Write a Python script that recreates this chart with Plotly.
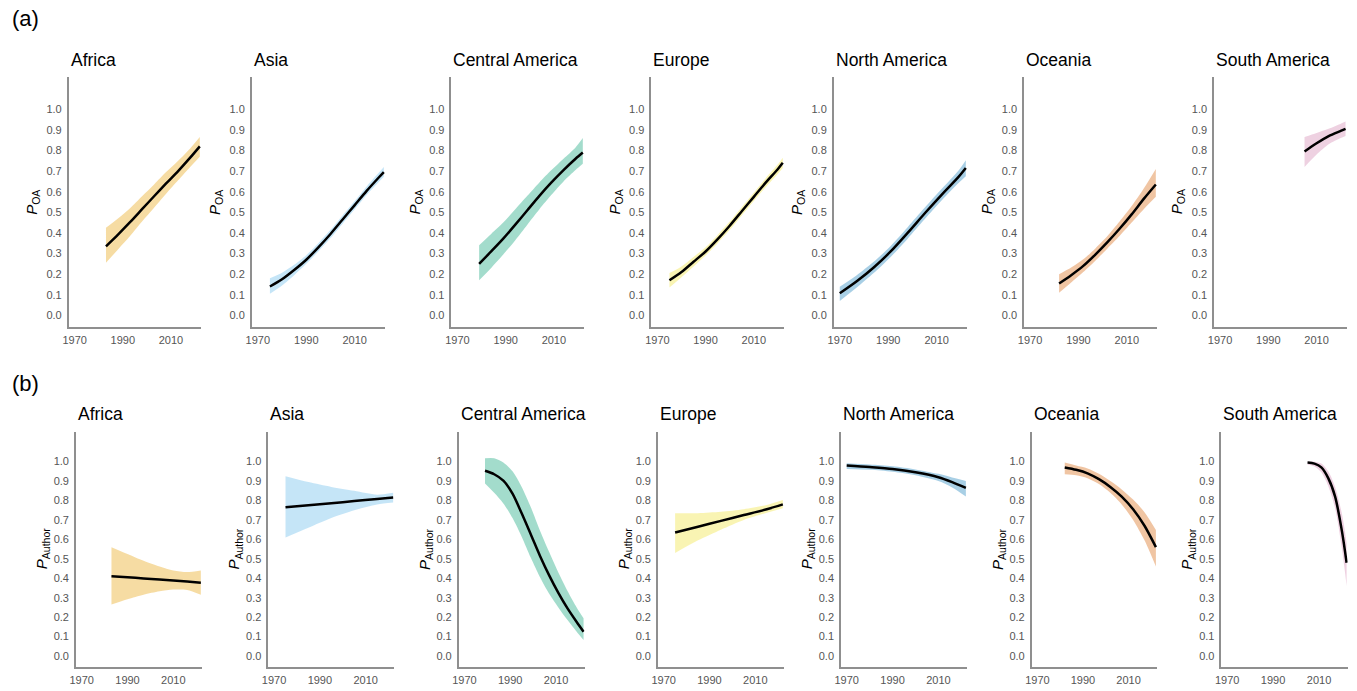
import plotly.graph_objects as go

W, H = 1357, 691

regions = ["Africa", "Asia", "Central America", "Europe", "North America", "Oceania", "South America"]
fill_colors = ["rgba(230,159,0,0.36)", "rgba(86,180,233,0.34)", "rgba(0,158,115,0.36)",
               "rgba(240,228,66,0.40)", "rgba(0,114,178,0.34)", "rgba(213,94,0,0.36)",
               "rgba(204,121,167,0.34)"]
x_ticks = [1970, 1990, 2010]
y_ticks = [0.0, 0.1, 0.2, 0.3, 0.4, 0.5, 0.6, 0.7, 0.8, 0.9, 1.0]
y_ticktext = ["0.0", "0.1", "0.2", "0.3", "0.4", "0.5", "0.6", "0.7", "0.8", "0.9", "1.0"]

# ---------------- (a) P_OA ----------------
oa_africa_year = [1983, 1988, 1993, 1998, 2003, 2008, 2013, 2018, 2022]
oa_africa_mean = [0.335, 0.392, 0.452, 0.515, 0.578, 0.64, 0.70, 0.765, 0.82]
oa_africa_lo = [0.255, 0.32, 0.385, 0.455, 0.522, 0.59, 0.655, 0.72, 0.77]
oa_africa_hi = [0.425, 0.47, 0.52, 0.578, 0.635, 0.695, 0.75, 0.81, 0.865]

oa_asia_year = [1975, 1980, 1985, 1990, 1995, 2000, 2005, 2010, 2015, 2020, 2022]
oa_asia_mean = [0.14, 0.175, 0.22, 0.27, 0.33, 0.395, 0.465, 0.535, 0.605, 0.67, 0.695]
oa_asia_lo = [0.105, 0.145, 0.195, 0.25, 0.31, 0.375, 0.445, 0.515, 0.585, 0.648, 0.672]
oa_asia_hi = [0.18, 0.207, 0.245, 0.292, 0.35, 0.415, 0.485, 0.555, 0.627, 0.693, 0.72]

oa_camerica_year = [1979, 1984, 1989, 1994, 1999, 2004, 2009, 2014, 2019, 2022]
oa_camerica_mean = [0.25, 0.31, 0.372, 0.44, 0.51, 0.58, 0.645, 0.705, 0.76, 0.79]
oa_camerica_lo = [0.17, 0.23, 0.295, 0.365, 0.44, 0.515, 0.585, 0.65, 0.705, 0.735]
oa_camerica_hi = [0.34, 0.395, 0.45, 0.515, 0.58, 0.645, 0.705, 0.76, 0.815, 0.86]

oa_europe_year = [1975, 1980, 1985, 1990, 1995, 2000, 2005, 2010, 2015, 2020, 2022]
oa_europe_mean = [0.17, 0.21, 0.26, 0.31, 0.37, 0.435, 0.505, 0.575, 0.645, 0.71, 0.74]
oa_europe_lo = [0.135, 0.185, 0.237, 0.29, 0.35, 0.415, 0.485, 0.555, 0.623, 0.687, 0.715]
oa_europe_hi = [0.205, 0.237, 0.283, 0.33, 0.39, 0.455, 0.525, 0.595, 0.667, 0.733, 0.765]

oa_namerica_year = [1970, 1977, 1984, 1991, 1998, 2005, 2012, 2019, 2022]
oa_namerica_mean = [0.107, 0.165, 0.232, 0.31, 0.4, 0.494, 0.585, 0.672, 0.715]
oa_namerica_lo = [0.07, 0.135, 0.205, 0.283, 0.372, 0.466, 0.557, 0.642, 0.675]
oa_namerica_hi = [0.139, 0.195, 0.26, 0.337, 0.428, 0.522, 0.613, 0.703, 0.753]

oa_oceania_year = [1982, 1987, 1992, 1997, 2002, 2007, 2012, 2017, 2022]
oa_oceania_mean = [0.155, 0.195, 0.24, 0.295, 0.355, 0.42, 0.49, 0.565, 0.635]
oa_oceania_lo = [0.11, 0.16, 0.21, 0.265, 0.325, 0.385, 0.45, 0.515, 0.575]
oa_oceania_hi = [0.2, 0.232, 0.272, 0.325, 0.385, 0.455, 0.53, 0.615, 0.71]

oa_samerica_year = [2005, 2010, 2015, 2020, 2022]
oa_samerica_mean = [0.795, 0.835, 0.87, 0.895, 0.905]
oa_samerica_lo = [0.72, 0.78, 0.83, 0.86, 0.87]
oa_samerica_hi = [0.865, 0.885, 0.905, 0.93, 0.94]

# ---------------- (b) P_Author ----------------
au_africa_year = [1983, 1990, 1997, 2004, 2010, 2016, 2022]
au_africa_mean = [0.41, 0.405, 0.399, 0.393, 0.388, 0.383, 0.377]
au_africa_lo = [0.265, 0.292, 0.315, 0.333, 0.342, 0.34, 0.315]
au_africa_hi = [0.56, 0.525, 0.49, 0.46, 0.44, 0.432, 0.44]

au_asia_year = [1975, 1985, 1995, 2005, 2015, 2022]
au_asia_mean = [0.765, 0.775, 0.786, 0.797, 0.808, 0.815]
au_asia_lo = [0.61, 0.66, 0.71, 0.75, 0.78, 0.79]
au_asia_hi = [0.925, 0.895, 0.87, 0.85, 0.83, 0.84]

au_camerica_year = [1979, 1983, 1987, 1991, 1995, 1999, 2003, 2007, 2011, 2015, 2019, 2022]
au_camerica_mean = [0.953, 0.935, 0.902, 0.835, 0.734, 0.625, 0.515, 0.415, 0.325, 0.245, 0.175, 0.125]
au_camerica_lo = [0.888, 0.84, 0.785, 0.71, 0.614, 0.505, 0.405, 0.32, 0.25, 0.185, 0.125, 0.082]
au_camerica_hi = [1.017, 1.017, 0.995, 0.95, 0.87, 0.765, 0.645, 0.535, 0.43, 0.335, 0.25, 0.194]

au_europe_year = [1975, 1985, 1995, 2005, 2015, 2022]
au_europe_mean = [0.635, 0.665, 0.695, 0.725, 0.755, 0.78]
au_europe_lo = [0.53, 0.595, 0.65, 0.7, 0.737, 0.76]
au_europe_hi = [0.735, 0.735, 0.742, 0.755, 0.777, 0.802]

au_namerica_year = [1970, 1980, 1990, 2000, 2010, 2016, 2022]
au_namerica_mean = [0.98, 0.972, 0.962, 0.945, 0.92, 0.895, 0.865]
au_namerica_lo = [0.962, 0.958, 0.948, 0.93, 0.9, 0.867, 0.82]
au_namerica_hi = [0.992, 0.985, 0.976, 0.96, 0.937, 0.918, 0.9]

au_oceania_year = [1982, 1987, 1992, 1997, 2002, 2007, 2012, 2017, 2022]
au_oceania_mean = [0.97, 0.958, 0.94, 0.91, 0.87, 0.82, 0.755, 0.67, 0.56]
au_oceania_lo = [0.935, 0.93, 0.915, 0.885, 0.84, 0.78, 0.7, 0.595, 0.46]
au_oceania_hi = [0.995, 0.98, 0.965, 0.937, 0.9, 0.857, 0.805, 0.74, 0.648]

au_samerica_year = [2005, 2008, 2011, 2014, 2017, 2020, 2022]
au_samerica_mean = [0.995, 0.99, 0.97, 0.915, 0.82, 0.64, 0.48]
au_samerica_lo = [0.985, 0.975, 0.945, 0.875, 0.76, 0.55, 0.36]
au_samerica_hi = [1.0, 1.0, 0.99, 0.95, 0.87, 0.73, 0.58]

oa_data = [
    (oa_africa_year, oa_africa_mean, oa_africa_lo, oa_africa_hi),
    (oa_asia_year, oa_asia_mean, oa_asia_lo, oa_asia_hi),
    (oa_camerica_year, oa_camerica_mean, oa_camerica_lo, oa_camerica_hi),
    (oa_europe_year, oa_europe_mean, oa_europe_lo, oa_europe_hi),
    (oa_namerica_year, oa_namerica_mean, oa_namerica_lo, oa_namerica_hi),
    (oa_oceania_year, oa_oceania_mean, oa_oceania_lo, oa_oceania_hi),
    (oa_samerica_year, oa_samerica_mean, oa_samerica_lo, oa_samerica_hi),
]
au_data = [
    (au_africa_year, au_africa_mean, au_africa_lo, au_africa_hi),
    (au_asia_year, au_asia_mean, au_asia_lo, au_asia_hi),
    (au_camerica_year, au_camerica_mean, au_camerica_lo, au_camerica_hi),
    (au_europe_year, au_europe_mean, au_europe_lo, au_europe_hi),
    (au_namerica_year, au_namerica_mean, au_namerica_lo, au_namerica_hi),
    (au_oceania_year, au_oceania_mean, au_oceania_lo, au_oceania_hi),
    (au_samerica_year, au_samerica_mean, au_samerica_lo, au_samerica_hi),
]

# panel pixel boxes (left, right) and (top, bottom)
row_a_x = [(62, 195), (246, 380), (446.7, 580), (647.7, 781), (831, 965), (1022.3, 1156), (1213.3, 1346.7)]
row_b_x = [(69.3, 196), (262.7, 389.3), (454, 580.7), (654.3, 781), (838.3, 965), (1030, 1156), (1220.7, 1347.7)]
row_a_y = (77.3, 326.7)
row_b_y = (431.5, 666.7)

FONT = "Liberation Sans, Arial, sans-serif"
fig = go.Figure()
layout = {}
annotations = []

panels = []
for i in range(7):
    panels.append((row_a_x[i], row_a_y, oa_data[i], regions[i], fill_colors[i], "<i>P</i><sub>OA</sub>", 37))
for i in range(7):
    panels.append((row_b_x[i], row_b_y, au_data[i], regions[i], fill_colors[i], "<i>P</i><sub>Author</sub>", 34))

for k, (xb, yb, data, name, fc, ytitle, yoff) in enumerate(panels):
    idx = k + 1
    xa = "x" if idx == 1 else f"x{idx}"
    ya = "y" if idx == 1 else f"y{idx}"
    yrs, mean, lo, hi = data
    fig.add_trace(go.Scatter(x=yrs, y=hi, mode="lines", line=dict(width=0, shape="spline", smoothing=0.8),
                             xaxis=xa, yaxis=ya, hoverinfo="skip", showlegend=False))
    fig.add_trace(go.Scatter(x=yrs, y=lo, mode="lines", line=dict(width=0, shape="spline", smoothing=0.8),
                             fill="tonexty", fillcolor=fc,
                             xaxis=xa, yaxis=ya, hoverinfo="skip", showlegend=False))
    fig.add_trace(go.Scatter(x=yrs, y=mean, mode="lines",
                             line=dict(color="black", width=2.5, shape="spline", smoothing=0.8),
                             xaxis=xa, yaxis=ya, showlegend=False))
    xkey = "xaxis" if idx == 1 else f"xaxis{idx}"
    ykey = "yaxis" if idx == 1 else f"yaxis{idx}"
    layout[xkey] = dict(domain=[xb[0] / W, xb[1] / W], anchor=ya, range=[1967.5, 2022.5],
                        tickvals=x_ticks, showline=True, linecolor="#8f8f8f", linewidth=1.5,
                        showgrid=False, zeroline=False, ticks="", ticklabelstandoff=2,
                        tickfont=dict(family=FONT, size=11, color="#555555"), fixedrange=True)
    layout[ykey] = dict(domain=[1 - yb[1] / H, 1 - yb[0] / H], anchor=xa, range=[-0.055, 1.155],
                        tickvals=y_ticks, ticktext=y_ticktext, showline=True, linecolor="#8f8f8f", linewidth=1.5,
                        showgrid=False, zeroline=False, ticks="", ticklabelstandoff=3,
                        tickfont=dict(family=FONT, size=11, color="#555555"), fixedrange=True)
    # panel title
    annotations.append(dict(text=name, x=xb[0] / W, y=1 - (yb[0] - 17) / H, xref="paper", yref="paper",
                            xanchor="left", yanchor="middle", showarrow=False,
                            font=dict(family=FONT, size=17.5, color="black")))
    # y-axis title
    annotations.append(dict(text=ytitle, x=(xb[0] - yoff) / W, y=1 - (yb[0] + yb[1]) / 2 / H,
                            xref="paper", yref="paper", xanchor="center", yanchor="middle",
                            textangle=-90, showarrow=False,
                            font=dict(family=FONT, size=15, color="black")))

annotations.append(dict(text="(a)", x=3 / W, y=1 - 18 / H, xref="paper", yref="paper",
                        xanchor="left", yanchor="middle", showarrow=False,
                        font=dict(family=FONT, size=22, color="black")))
annotations.append(dict(text="(b)", x=3 / W, y=1 - 383 / H, xref="paper", yref="paper",
                        xanchor="left", yanchor="middle", showarrow=False,
                        font=dict(family=FONT, size=22, color="black")))

fig.update_layout(width=W, height=H, margin=dict(l=0, r=0, t=0, b=0),
                  plot_bgcolor="white", paper_bgcolor="white", showlegend=False,
                  font=dict(family=FONT), annotations=annotations, **layout)

fig.write_html("out.html", config={"displayModeBar": False},
               post_script="document.body.style.margin='0';document.body.style.overflow='hidden';")
